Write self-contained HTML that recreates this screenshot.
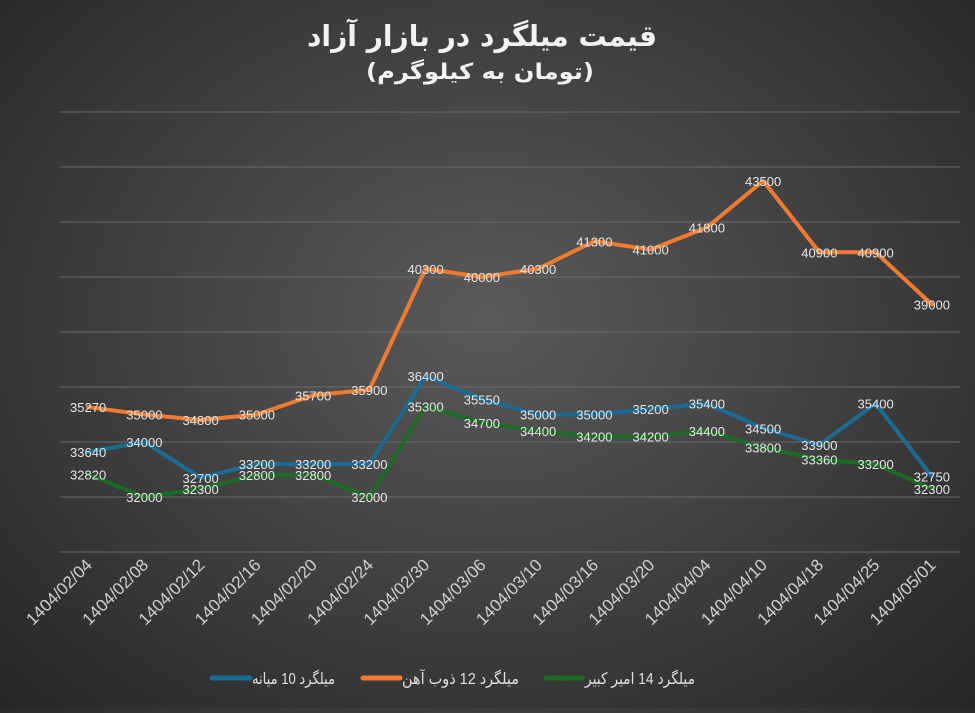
<!DOCTYPE html>
<html><head><meta charset="utf-8"><style>
html,body{margin:0;padding:0}
body{width:975px;height:708px;overflow:hidden;background:radial-gradient(ellipse at 50% 45%,#5a5a5a 0%,#3e3e3e 55%,#262626 100%);font-family:"Liberation Sans","DejaVu Sans",sans-serif}
</style></head><body>
<svg id="chart" width="975" height="708" xmlns="http://www.w3.org/2000/svg">
<text x="482" y="46" text-anchor="middle" font-size="29" font-weight="bold" fill="#f2f2f2" font-family="DejaVu Sans,sans-serif" textLength="350" lengthAdjust="spacingAndGlyphs">قیمت میلگرد در بازار آزاد</text>
<text x="480" y="79" text-anchor="middle" font-size="22" font-weight="bold" fill="#f2f2f2" font-family="DejaVu Sans,sans-serif" textLength="228" lengthAdjust="spacingAndGlyphs">(تومان به کیلوگرم)</text>
<g id="grid"></g><g id="xlabels"></g><g id="lines"></g><g id="dlabels"></g>
<g font-size="16" fill="#e0e0e0" font-family="Liberation Sans,DejaVu Sans,sans-serif">
<line x1="212" y1="678" x2="250" y2="678" stroke="#1b6b92" stroke-width="5" stroke-linecap="round"/>
<text x="252" y="684" textLength="83" lengthAdjust="spacingAndGlyphs">میلگرد 10 میانه</text>
<line x1="363" y1="678" x2="400" y2="678" stroke="#f07a30" stroke-width="5" stroke-linecap="round"/>
<text x="402" y="684" textLength="117" lengthAdjust="spacingAndGlyphs">میلگرد 12 ذوب آهن</text>
<line x1="546" y1="678" x2="582" y2="678" stroke="#1e6b28" stroke-width="5" stroke-linecap="round"/>
<text x="585" y="684" textLength="110" lengthAdjust="spacingAndGlyphs">میلگرد 14 امیر کبیر</text>
</g>
</svg>
<script>
const categories=["1404/02/04","1404/02/08","1404/02/12","1404/02/16","1404/02/20","1404/02/24","1404/02/30","1404/03/06","1404/03/10","1404/03/16","1404/03/20","1404/04/04","1404/04/10","1404/04/18","1404/04/25","1404/05/01"];
const series10=[33640,34000,32700,33200,33200,33200,36400,35550,35000,35000,35200,35400,34500,33900,35400,32750];
const series12=[35270,35000,34800,35000,35700,35900,40300,40000,40300,41300,41000,41800,43500,40900,40900,39000];
const series14=[32820,32000,32300,32800,32800,32000,35300,34700,34400,34200,34200,34400,33800,33360,33200,32300];
const yTicks=[30000,32000,34000,36000,38000,40000,42000,44000,46000];
const NS="http://www.w3.org/2000/svg";
const L=60,R=960,T=112,B=552,yMin=30000,yMax=46000;
const x=i=>L+(R-L)/categories.length*(i+0.5);
const y=v=>B-(v-yMin)/(yMax-yMin)*(B-T);
function mk(tag,attrs,parent){const e=document.createElementNS(NS,tag);for(const k in attrs)e.setAttribute(k,attrs[k]);parent.appendChild(e);return e;}
const grid=document.getElementById('grid');
yTicks.forEach(t=>{const g=mk('line',{x1:L,x2:R,y1:y(t),y2:y(t),stroke:'#6a6a6a','stroke-width':1},grid);

});
const xl=document.getElementById('xlabels');
categories.forEach((c,i)=>{const t=mk('text',{x:x(i)+5,y:566,'text-anchor':'end','font-size':17,fill:'#d0d0d0',transform:`rotate(-45 ${x(i)+5} 566)`},xl);t.textContent=c;

});
const lines=document.getElementById('lines'),dl=document.getElementById('dlabels');
[[series14,'#1e6b28','series-14'],[series10,'#1b6b92','series-10'],[series12,'#f07a30','series-12']].forEach(([s,col,name])=>{
const p=mk('polyline',{points:s.map((v,i)=>x(i)+','+y(v)).join(' '),fill:'none',stroke:col,'stroke-width':4,'stroke-linejoin':'round','stroke-linecap':'round'},lines);


s.forEach((v,i)=>{const t=mk('text',{x:x(i),y:y(v)+5,'text-anchor':'middle','font-size':13,fill:'#e6e6e6'},dl);t.textContent=v;

});
});
</script>
</body></html>
